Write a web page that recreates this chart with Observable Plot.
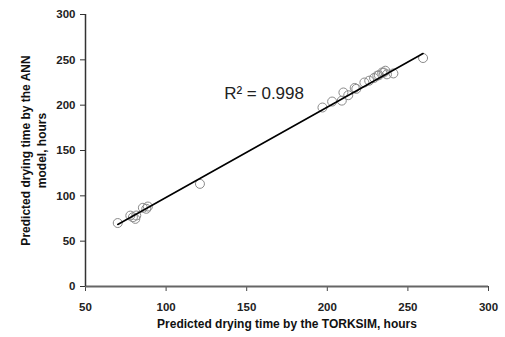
<!DOCTYPE html>
<html>
<head>
<meta charset="utf-8">
<script src="https://cdn.jsdelivr.net/npm/d3@7"></script>
<script src="https://cdn.jsdelivr.net/npm/@observablehq/plot@0.6"></script>
<style>
  html, body { margin: 0; padding: 0; background: #fff; }
  #chart { width: 505px; height: 337px; }
</style>
</head>
<body>
<div id="chart"></div>
<script>
// Predicted drying time by TORKSIM (x) vs ANN model (y), hours
const torksim = [70, 77.8, 79.4, 81.5, 80.9, 85.6, 88.7, 87.7, 121,
  197, 203, 209, 210, 213, 217, 218, 223, 226, 229, 231, 232, 234, 235, 236, 237, 241, 259.4];
const ann = [70, 78.2, 76.4, 78.3, 74.6, 86.8, 88.2, 85.7, 113.2,
  197.4, 204, 205, 214, 211, 219, 218, 225, 227, 230, 232.6, 233, 236, 236, 238, 234, 235, 252];
const trendX = [70, 259.4];
const trendY = [68.4, 257];
const xTicks = [50, 100, 150, 200, 250, 300];
const yTicks = [0, 50, 100, 150, 200, 250, 300];
const r2Label = "R² = 0.998";
const xLabel = "Predicted drying time by the TORKSIM, hours";
const yLabel = "Predicted drying time by the ANN\nmodel, hours";

const points = torksim.map((x, i) => ({x, y: ann[i]}));
const trend = trendX.map((x, i) => ({x, y: trendY[i]}));
const font = "'Liberation Sans', Arial, Helvetica, sans-serif";

const chart = Plot.plot({
  width: 505,
  height: 337,
  marginLeft: 85,
  marginRight: 17,
  marginTop: 14,
  marginBottom: 51,
  style: {fontFamily: font, background: "#fff", overflow: "visible"},
  x: {domain: [50, 300]},
  y: {domain: [0, 300]},
  marks: [
    Plot.axisX({ticks: xTicks, tickSize: 5, tickPadding: 11, label: null,
      fontWeight: "bold", fontSize: 11.5, fill: "#222", stroke: "#444"}),
    Plot.axisY({ticks: yTicks, tickSize: 5, tickPadding: 5, label: null,
      fontWeight: "bold", fontSize: 11.5, fill: "#222", stroke: "#333"}),
    Plot.ruleY([0], {stroke: "#666", strokeWidth: 2}),
    Plot.ruleX([50], {stroke: "#333", strokeWidth: 1.5}),
    Plot.dot(points, {x: "x", y: "y", r: 4.5, stroke: "#8a8a8a", strokeWidth: 1, fill: "none"}),
    Plot.line(trend, {x: "x", y: "y", stroke: "#000", strokeWidth: 1.6}),
    Plot.text([r2Label], {x: 136, y: 213, text: d => d, textAnchor: "start",
      fontSize: 17, fill: "#222"}),
    Plot.text([xLabel], {frameAnchor: "bottom", dy: 38, lineAnchor: "middle", text: d => d,
      fontWeight: "bold", fontSize: 12, fill: "#111"}),
    Plot.text([yLabel], {frameAnchor: "left", dx: -53, dy: 0, rotate: -90, text: d => d,
      textAnchor: "middle", lineAnchor: "middle",
      fontWeight: "bold", fontSize: 12, lineHeight: 1.35, fill: "#111"})
  ]
});
document.getElementById("chart").appendChild(chart);
</script>
</body>
</html>
